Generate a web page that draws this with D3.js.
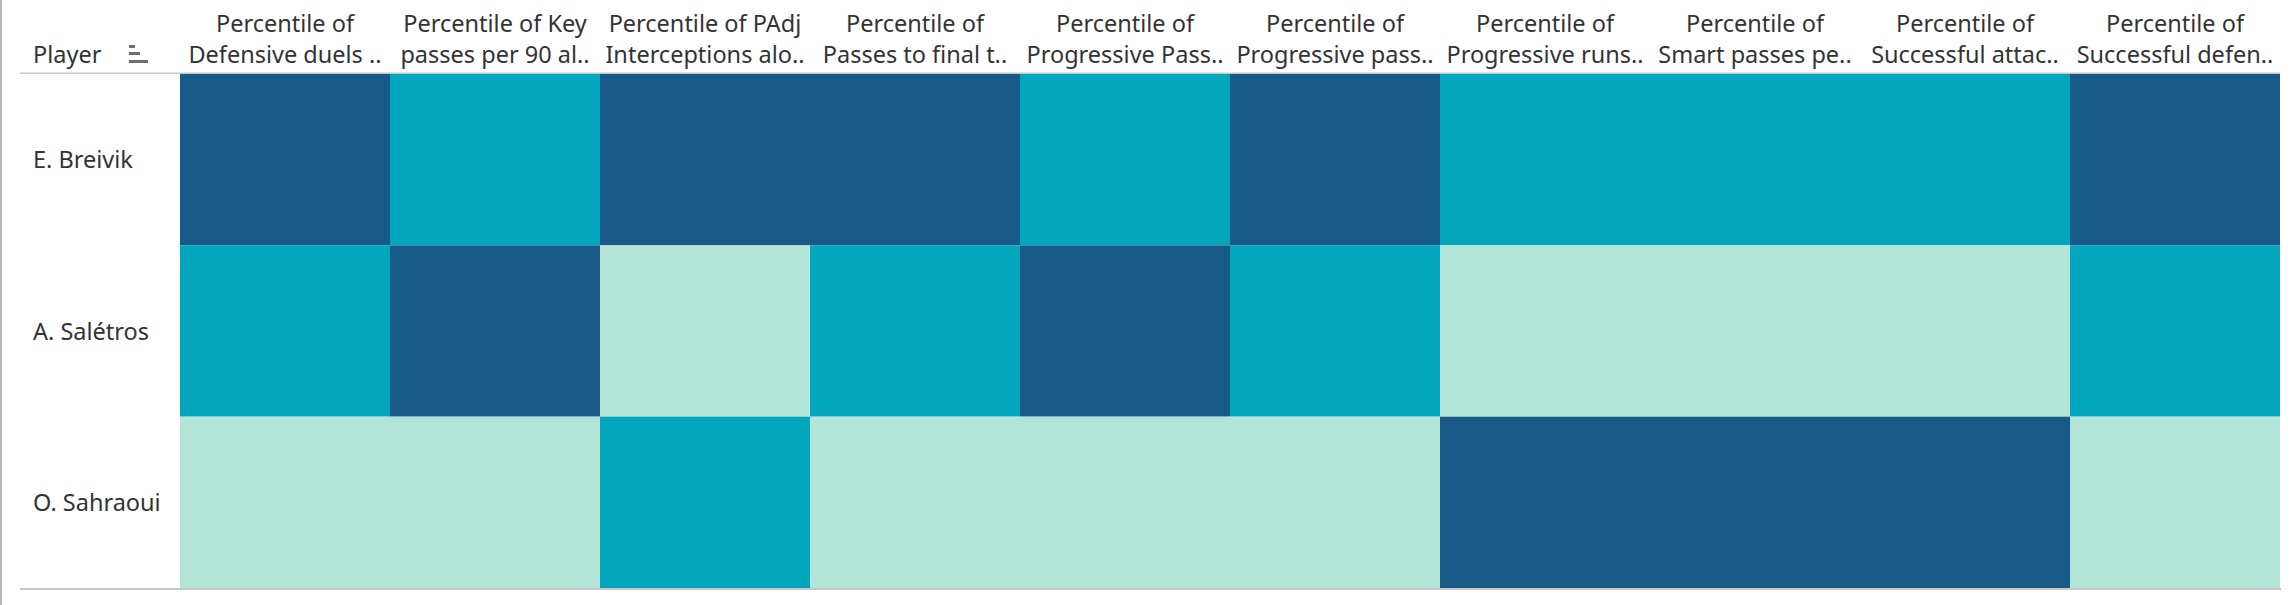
<!DOCTYPE html>
<html><head><meta charset="utf-8">
<script src="https://cdn.jsdelivr.net/npm/d3@7"></script>
<style>body{margin:0;background:#fff}svg{display:block}</style>
</head><body>
<script>
const players = ["E. Breivik", "A. Salétros", "O. Sahraoui"];
const headerLine1 = ["Percentile of", "Percentile of Key", "Percentile of PAdj", "Percentile of", "Percentile of", "Percentile of", "Percentile of", "Percentile of", "Percentile of", "Percentile of"];
const headerLine2 = ["Defensive duels ..", "passes per 90 al..", "Interceptions alo..", "Passes to final t..", "Progressive Pass..", "Progressive pass..", "Progressive runs..", "Smart passes pe..", "Successful attac..", "Successful defen.."];
// percentile per metric (rows = players)
const breivik  = [1.0, 0.5, 1.0, 1.0, 0.5, 1.0, 0.5, 0.5, 0.5, 1.0];
const saletros = [0.5, 1.0, 0.0, 0.5, 1.0, 0.5, 0.0, 0.0, 0.0, 0.5];
const sahraoui = [0.0, 0.0, 0.5, 0.0, 0.0, 0.0, 1.0, 1.0, 1.0, 0.0];
const seriesValues = [breivik, saletros, sahraoui];
const colorLevels = [0.0, 0.5, 1.0];
const colorRange = ["#b3e4d8", "#02a6bd", "#175a88"];

const W = 2293, H = 605;
const svg = d3.select("body").append("svg").attr("width", W).attr("height", H);
const font = "'Noto Sans', sans-serif";
const fs = 23.5;
const textColor = "#333333";

const cols = d3.range(headerLine2.length);
const x = d3.scaleBand().domain(cols).range([180, 2280]);
const y = d3.scaleBand().domain(players).range([74, 588]);
const color = d3.scaleOrdinal().domain(colorLevels).range(colorRange);

// left border
svg.append("rect").attr("x", 0).attr("y", 0).attr("width", 2).attr("height", H).attr("fill", "#b4b4b4");

// cells
const cells = [];
players.forEach((p, i) => seriesValues[i].forEach((v, j) => cells.push({p, j, v})));
svg.append("g").selectAll("rect").data(cells).join("rect")
  .attr("x", d => x(d.j)).attr("y", d => y(d.p))
  .attr("width", x.bandwidth()).attr("height", y.bandwidth())
  .attr("fill", d => color(d.v));

// header and bottom lines
svg.append("rect").attr("x", 20).attr("y", 72.5).attr("width", 2260).attr("height", 1.5).attr("fill", "#c8c8c8");
svg.append("rect").attr("x", 20).attr("y", 588).attr("width", 2261).attr("height", 2).attr("fill", "#c8c8c8");

// column headers
const hdr = svg.append("g").attr("font-family", font).attr("font-size", fs).attr("fill", textColor).attr("text-anchor", "middle");
cols.forEach(j => {
  const cx = x(j) + x.bandwidth() / 2;
  hdr.append("text").attr("x", cx).attr("y", 31.5).text(headerLine1[j]);
  hdr.append("text").attr("x", cx).attr("y", 63).text(headerLine2[j]);
});

// row header
svg.append("text").attr("x", 33).attr("y", 63).attr("font-family", font).attr("font-size", fs).attr("fill", textColor).text("Player");
// sort icon
const icon = svg.append("g").attr("fill", "#6e6e6e");
icon.append("rect").attr("x", 129).attr("y", 45).attr("width", 6).attr("height", 3);
icon.append("rect").attr("x", 129).attr("y", 52).attr("width", 11).attr("height", 3);
icon.append("rect").attr("x", 129).attr("y", 60).attr("width", 19).attr("height", 3);

// row labels
svg.append("g").selectAll("text").data(players).join("text")
  .attr("x", 33).attr("y", d => y(d) + y.bandwidth() / 2 + 8.5)
  .attr("font-family", font).attr("font-size", fs).attr("fill", textColor)
  .text(d => d);
</script>
</body></html>
